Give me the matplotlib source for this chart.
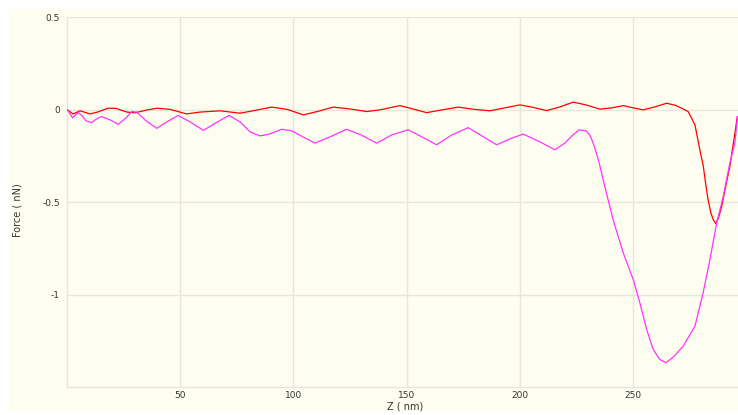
import matplotlib
matplotlib.use("Agg")
import matplotlib.pyplot as plt
from matplotlib.patches import Rectangle

# ---- data ----
red_z = [0.3, 2.8, 5.9, 10.3, 13.8, 18.2, 21.8, 26.5, 30.1, 34.5, 39.7, 45.6,
         52.9, 58.8, 67.6, 76.5, 83.1, 90.4, 97.2, 104.4, 110.9, 117.5, 125.0,
         132.4, 138.2, 147.0, 152.8, 158.8, 165.6, 172.8, 179.7, 186.8, 193.4,
         200.0, 205.7, 211.8, 217.6, 223.5, 229.1, 235.3, 240.6, 245.6, 249.9,
         254.4, 259.5, 264.7, 268.8, 272.0, 274.2, 275.7, 277.2, 278.5, 279.8,
         280.8, 282.0, 283.0, 284.2, 285.3, 286.4, 287.6, 289.0, 290.9, 292.6,
         294.4, 295.9]
red_f = [0.0, -0.022, -0.005, -0.022, -0.011, 0.009, 0.008, -0.012, -0.016,
         -0.003, 0.009, 0.003, -0.022, -0.012, -0.005, -0.018, -0.003, 0.015,
         0.003, -0.027, -0.008, 0.015, 0.005, -0.009, 0.0, 0.023, 0.005, -0.015,
         0.0, 0.015, 0.003, -0.005, 0.011, 0.027, 0.014, -0.004, 0.016, 0.042,
         0.027, 0.004, 0.011, 0.023, 0.011, 0.0, 0.016, 0.036, 0.024, 0.005,
         -0.009, -0.045, -0.081, -0.162, -0.243, -0.297, -0.405, -0.486, -0.557,
         -0.595, -0.616, -0.584, -0.523, -0.405, -0.306, -0.162, -0.036]

mag_z = [0.3, 1.5, 2.6, 3.9, 5.1, 6.8, 8.5, 11.0, 12.9, 15.4, 19.1, 22.8, 26.2,
         28.7, 30.9, 35.0, 39.7, 44.2, 49.2, 54.4, 60.3, 65.9, 71.6, 76.5, 80.9,
         85.3, 89.7, 94.9, 99.4, 104.2, 109.5, 116.2, 123.5, 129.8, 136.8, 143.5,
         150.7, 156.7, 163.2, 170.0, 177.2, 183.2, 189.7, 195.6, 201.4, 208.8,
         215.4, 219.8, 222.9, 226.1, 229.4, 231.2, 233.0, 234.8, 236.7, 241.1,
         245.6, 250.0, 252.9, 255.9, 258.8, 261.7, 264.4, 267.9, 272.0, 277.2,
         280.8, 283.8, 286.8, 289.7, 292.6, 294.8, 296.0]
mag_f = [0.0, -0.022, -0.043, -0.027, -0.015, -0.032, -0.059, -0.070, -0.051,
         -0.036, -0.054, -0.078, -0.043, -0.009, -0.012, -0.059, -0.100, -0.065,
         -0.030, -0.065, -0.111, -0.070, -0.030, -0.065, -0.119, -0.141, -0.130,
         -0.105, -0.114, -0.146, -0.180, -0.146, -0.105, -0.135, -0.180, -0.135,
         -0.108, -0.146, -0.189, -0.135, -0.096, -0.141, -0.189, -0.157, -0.131,
         -0.173, -0.216, -0.180, -0.141, -0.108, -0.115, -0.145, -0.205, -0.280,
         -0.378, -0.595, -0.775, -0.919, -1.045, -1.189, -1.297, -1.351, -1.369,
         -1.335, -1.279, -1.171, -0.991, -0.811, -0.612, -0.469, -0.288, -0.180,
         -0.036]

x_ticks = [50, 100, 150, 200, 250]
x_tick_labels = ["50", "100", "150", "200", "250"]
y_ticks = [0.5, 0, -0.5, -1]
y_tick_labels = ["0.5", "0", "-0.5", "-1"]

# ---- figure ----
W, H = 738, 415
fig = plt.figure(figsize=(W / 100, H / 100), dpi=100, facecolor="white")
bg = "#FEFEF0"
fig.patches.append(Rectangle((9 / W, 1 - 411 / H), 1 - 9 / W, (411 - 9) / H,
                             transform=fig.transFigure, facecolor=bg,
                             edgecolor="none", zorder=-10))

left, right = 66.7 / W, 1.0
top, bottom = 1 - 17.5 / H, 1 - 387 / H
ax = fig.add_axes([left, bottom, right - left, top - bottom])
ax.set_zorder(5)
ax.set_facecolor(bg)
ax.set_xlim(0, 296.2)
ax.set_ylim(-1.5, 0.5)

grid_c = "#E6E6DA"
ax.set_xticks(x_ticks)
ax.set_xticklabels(x_tick_labels)
ax.set_yticks(y_ticks)
ax.set_yticklabels(y_tick_labels)
ax.grid(True, color=grid_c, linewidth=1.0)
ax.set_axisbelow(True)
ax.tick_params(length=0, labelsize=6.5, labelcolor="#333333", pad=5)
ax.tick_params(axis="x", pad=3)
for s in ["top", "right"]:
    ax.spines[s].set_visible(False)
for s in ["left", "bottom"]:
    ax.spines[s].set_color(grid_c)
    ax.spines[s].set_linewidth(1.0)

ax.plot(red_z, red_f, color="#FF0000", linewidth=0.9, zorder=3)
ax.plot(mag_z, mag_f, color="#FF33FF", linewidth=0.9, zorder=3)

fig.text(405 / W, 1 - 406.5 / H, "Z ( nm)", ha="center", va="center",
         fontsize=7, color="#333333", zorder=6)
fig.text(17 / W, 1 - 210 / H, "Force ( nN)", ha="center", va="center",
         rotation=90, fontsize=7, color="#333333", zorder=6)

fig.savefig("out.png", dpi=100, facecolor="white")
